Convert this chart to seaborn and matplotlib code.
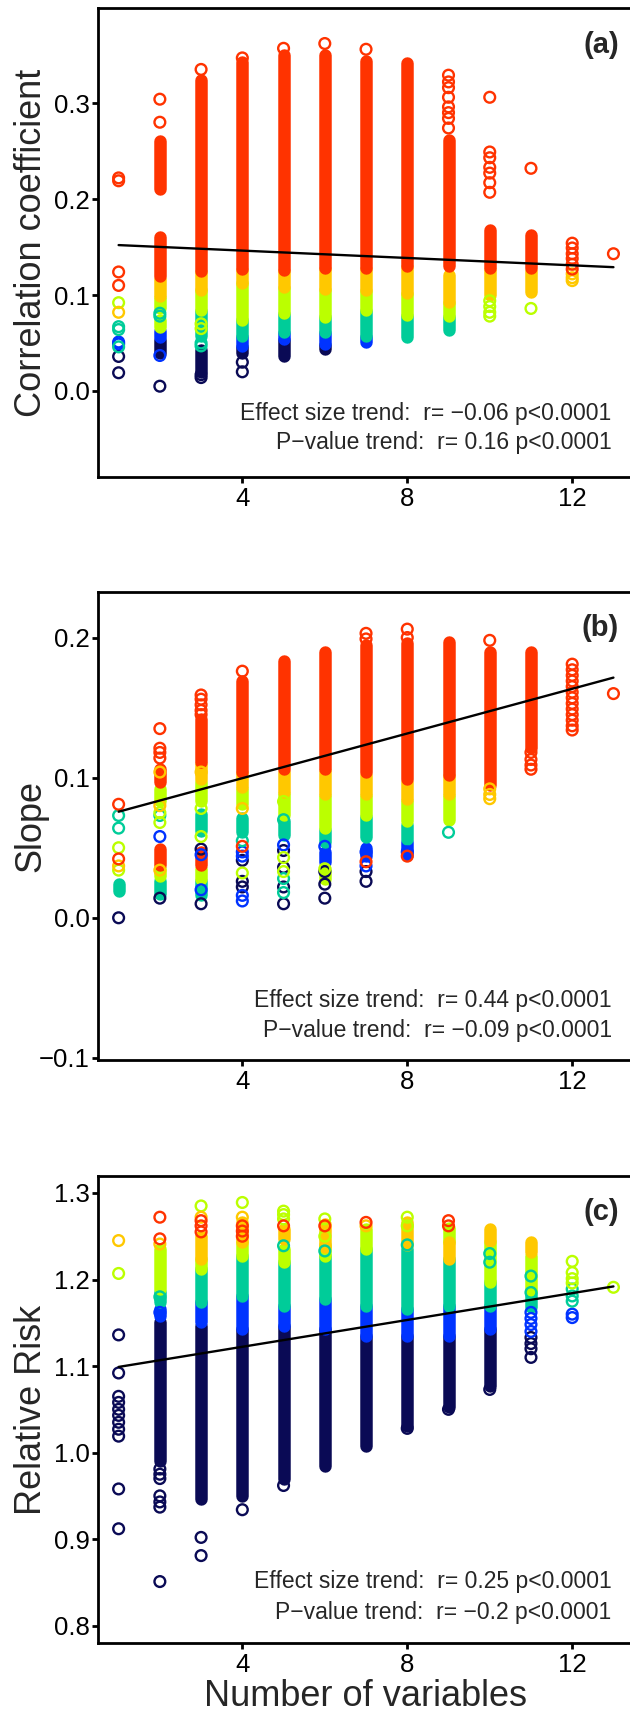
import numpy as np
import pandas as pd
import matplotlib
matplotlib.use("Agg")
import matplotlib.pyplot as plt
from matplotlib.ticker import FuncFormatter
import seaborn as sns

# ---------------- data ----------------
# p-value classes (colour index): 0 navy, 1 blue, 2 teal, 3 lime, 4 orange, 5 red
CLASS_COLORS = ["#0a0a55", "#0033ff", "#00cc99", "#bbff00", "#ffc800", "#ff3300"]

TREND_X = [1, 13]
A_TREND = [0.152, 0.129]
B_TREND = [0.0757, 0.1714]
C_TREND = [1.099, 1.192]

# dense runs of overlapping points: (n_variables, lowest value, highest value, class)
A_BANDS = [
    (2, 0.210, 0.260, 5), (2, 0.120, 0.160, 5), (2, 0.099, 0.117, 4), (2, 0.086, 0.097, 3),
    (2, 0.067, 0.074, 3), (2, 0.056, 0.063, 1), (2, 0.040, 0.053, 0),
    (3, 0.125, 0.324, 5), (3, 0.105, 0.124, 4), (3, 0.084, 0.105, 3), (3, 0.057, 0.083, 2),
    (3, 0.020, 0.043, 0),
    (4, 0.127, 0.343, 5), (4, 0.113, 0.126, 4), (4, 0.074, 0.112, 3), (4, 0.057, 0.074, 2),
    (4, 0.047, 0.056, 1), (4, 0.040, 0.046, 0),
    (5, 0.126, 0.350, 5), (5, 0.108, 0.125, 4), (5, 0.081, 0.107, 3), (5, 0.061, 0.080, 2),
    (5, 0.054, 0.060, 1), (5, 0.036, 0.053, 0),
    (6, 0.128, 0.350, 5), (6, 0.106, 0.127, 4), (6, 0.077, 0.105, 3), (6, 0.061, 0.077, 2),
    (6, 0.049, 0.060, 1), (6, 0.044, 0.048, 0),
    (7, 0.128, 0.344, 5), (7, 0.105, 0.127, 4), (7, 0.084, 0.104, 3), (7, 0.057, 0.083, 2),
    (7, 0.051, 0.056, 1),
    (8, 0.130, 0.342, 5), (8, 0.102, 0.129, 4), (8, 0.079, 0.101, 3), (8, 0.056, 0.078, 2),
    (9, 0.130, 0.261, 5), (9, 0.093, 0.121, 4), (9, 0.078, 0.092, 3), (9, 0.064, 0.077, 2),
    (10, 0.128, 0.168, 5), (10, 0.100, 0.126, 4),
    (11, 0.128, 0.162, 5), (11, 0.103, 0.125, 4),
]
# individual points: (n_variables, value, class)
A_POINTS = [
    (1, 0.222, 5), (1, 0.219, 5), (1, 0.124, 5), (1, 0.110, 5), (1, 0.092, 3), (1, 0.082, 4),
    (1, 0.067, 2), (1, 0.064, 2), (1, 0.051, 1), (1, 0.049, 1), (1, 0.046, 2), (1, 0.036, 0),
    (1, 0.019, 0),
    (2, 0.304, 5), (2, 0.280, 5), (2, 0.081, 2), (2, 0.078, 2), (2, 0.037, 1), (2, 0.005, 0),
    (3, 0.335, 5), (3, 0.070, 3), (3, 0.065, 3), (3, 0.050, 2), (3, 0.047, 2), (3, 0.017, 0),
    (3, 0.014, 0),
    (4, 0.347, 5), (4, 0.030, 0), (4, 0.020, 0),
    (5, 0.357, 5), (6, 0.362, 5), (7, 0.356, 5),
    (9, 0.329, 5), (9, 0.322, 5), (9, 0.316, 5), (9, 0.306, 5), (9, 0.296, 5), (9, 0.290, 5),
    (9, 0.284, 5), (9, 0.274, 5),
    (10, 0.306, 5), (10, 0.249, 5), (10, 0.243, 5), (10, 0.233, 5), (10, 0.227, 5),
    (10, 0.217, 5), (10, 0.207, 5), (10, 0.094, 3), (10, 0.088, 3), (10, 0.082, 3), (10, 0.078, 3),
    (11, 0.232, 5), (11, 0.086, 3),
    (12, 0.154, 5), (12, 0.149, 5), (12, 0.143, 5), (12, 0.138, 5), (12, 0.132, 5),
    (12, 0.127, 5), (12, 0.122, 4), (12, 0.118, 4), (12, 0.115, 4),
    (13, 0.143, 5),
]

B_BANDS = [
    (1, 0.019, 0.024, 2),
    (2, 0.097, 0.106, 5), (2, 0.083, 0.092, 3), (2, 0.038, 0.049, 5), (2, 0.030, 0.035, 3),
    (2, 0.017, 0.026, 2),
    (3, 0.111, 0.142, 5), (3, 0.099, 0.110, 4), (3, 0.083, 0.097, 3), (3, 0.062, 0.074, 2),
    (3, 0.038, 0.047, 5), (3, 0.028, 0.035, 3), (3, 0.016, 0.026, 2),
    (4, 0.104, 0.169, 5), (4, 0.093, 0.103, 4), (4, 0.081, 0.092, 3), (4, 0.061, 0.071, 2),
    (5, 0.106, 0.183, 5), (5, 0.090, 0.104, 4), (5, 0.073, 0.088, 3), (5, 0.059, 0.069, 2),
    (6, 0.106, 0.190, 5), (6, 0.088, 0.105, 4), (6, 0.064, 0.087, 3), (6, 0.054, 0.063, 2),
    (6, 0.040, 0.047, 1), (6, 0.028, 0.035, 3),
    (7, 0.104, 0.195, 5), (7, 0.088, 0.102, 4), (7, 0.073, 0.087, 3), (7, 0.058, 0.072, 2),
    (7, 0.044, 0.050, 1),
    (8, 0.099, 0.196, 5), (8, 0.085, 0.097, 4), (8, 0.069, 0.083, 3), (8, 0.056, 0.066, 2),
    (8, 0.045, 0.054, 1),
    (9, 0.102, 0.197, 5), (9, 0.088, 0.101, 4), (9, 0.070, 0.087, 3),
    (10, 0.095, 0.190, 5),
    (11, 0.121, 0.190, 5),
]
B_POINTS = [
    (1, 0.081, 5), (1, 0.073, 2), (1, 0.064, 2), (1, 0.050, 3), (1, 0.042, 5), (1, 0.037, 4),
    (1, 0.034, 3), (1, 0.000, 0),
    (2, 0.135, 5), (2, 0.121, 5), (2, 0.118, 5), (2, 0.114, 5), (2, 0.104, 4), (2, 0.080, 4),
    (2, 0.075, 3), (2, 0.073, 2), (2, 0.068, 3), (2, 0.058, 1), (2, 0.034, 4), (2, 0.014, 0),
    (3, 0.159, 5), (3, 0.156, 5), (3, 0.152, 5), (3, 0.148, 5), (3, 0.145, 5), (3, 0.104, 4),
    (3, 0.078, 3), (3, 0.058, 3), (3, 0.049, 0), (3, 0.045, 1), (3, 0.020, 1), (3, 0.010, 0),
    (4, 0.176, 5), (4, 0.078, 4), (4, 0.055, 2), (4, 0.051, 5), (4, 0.047, 1), (4, 0.044, 1),
    (4, 0.041, 0), (4, 0.032, 3), (4, 0.026, 0), (4, 0.022, 0), (4, 0.016, 1), (4, 0.012, 1),
    (5, 0.083, 3), (5, 0.070, 2), (5, 0.052, 1), (5, 0.048, 0), (5, 0.043, 3), (5, 0.036, 0),
    (5, 0.033, 3), (5, 0.028, 2), (5, 0.022, 0), (5, 0.018, 2), (5, 0.010, 0),
    (6, 0.051, 1), (6, 0.035, 3), (6, 0.033, 0), (6, 0.024, 0), (6, 0.014, 0),
    (7, 0.203, 5), (7, 0.199, 5), (7, 0.047, 1), (7, 0.040, 5), (7, 0.037, 1), (7, 0.033, 0),
    (7, 0.026, 0),
    (8, 0.206, 5), (8, 0.200, 5), (8, 0.047, 1), (8, 0.044, 5),
    (9, 0.061, 2),
    (10, 0.198, 5), (10, 0.092, 4), (10, 0.088, 4), (10, 0.085, 4),
    (11, 0.118, 5), (11, 0.113, 5), (11, 0.109, 5), (11, 0.106, 5),
    (12, 0.181, 5), (12, 0.177, 5), (12, 0.173, 5), (12, 0.169, 5), (12, 0.165, 5),
    (12, 0.161, 5), (12, 0.157, 5), (12, 0.153, 5), (12, 0.149, 5), (12, 0.145, 5),
    (12, 0.141, 5), (12, 0.137, 5), (12, 0.134, 5),
    (13, 0.160, 5),
]

C_BANDS = [
    (2, 1.189, 1.235, 3), (2, 1.174, 1.185, 2), (2, 1.158, 1.166, 1), (2, 0.990, 1.151, 0),
    (3, 1.224, 1.250, 4), (3, 1.212, 1.224, 3), (3, 1.174, 1.212, 2), (3, 1.151, 1.174, 1),
    (3, 0.946, 1.146, 0),
    (4, 1.243, 1.266, 4), (4, 1.227, 1.243, 3), (4, 1.181, 1.227, 2), (4, 1.143, 1.181, 1),
    (4, 0.950, 1.143, 0),
    (5, 1.247, 1.258, 4), (5, 1.220, 1.235, 3), (5, 1.169, 1.220, 2), (5, 1.146, 1.169, 1),
    (5, 0.970, 1.146, 0),
    (6, 1.238, 1.264, 4), (6, 1.227, 1.240, 3), (6, 1.177, 1.227, 2), (6, 1.143, 1.177, 1),
    (6, 0.985, 1.143, 0),
    (7, 1.235, 1.258, 3), (7, 1.169, 1.235, 2), (7, 1.135, 1.169, 1), (7, 1.008, 1.135, 0),
    (8, 1.240, 1.266, 4), (8, 1.166, 1.235, 2), (8, 1.135, 1.166, 1), (8, 1.031, 1.135, 0),
    (9, 1.243, 1.260, 3), (9, 1.224, 1.243, 4), (9, 1.169, 1.224, 2), (9, 1.135, 1.169, 1),
    (9, 1.053, 1.135, 0),
    (10, 1.245, 1.258, 4), (10, 1.197, 1.243, 3), (10, 1.169, 1.197, 2), (10, 1.143, 1.169, 1),
    (10, 1.077, 1.143, 0),
    (11, 1.232, 1.243, 4), (11, 1.188, 1.227, 3), (11, 1.168, 1.185, 2),
]
C_POINTS = [
    (1, 1.245, 4), (1, 1.207, 3), (1, 1.136, 0), (1, 1.092, 0), (1, 1.065, 0), (1, 1.058, 0),
    (1, 1.050, 0), (1, 1.043, 0), (1, 1.035, 0), (1, 1.027, 0), (1, 1.019, 0), (1, 0.958, 0),
    (1, 0.912, 0),
    (2, 1.272, 5), (2, 1.247, 5), (2, 1.241, 4), (2, 1.180, 2), (2, 1.162, 1), (2, 0.981, 0),
    (2, 0.975, 0), (2, 0.970, 0), (2, 0.950, 0), (2, 0.943, 0), (2, 0.937, 0), (2, 0.851, 0),
    (3, 1.285, 3), (3, 1.272, 4), (3, 1.268, 5), (3, 1.262, 5), (3, 1.255, 5), (3, 0.902, 0),
    (3, 0.881, 0),
    (4, 1.289, 3), (4, 1.272, 4), (4, 1.262, 5), (4, 1.256, 5), (4, 1.250, 5), (4, 0.934, 0),
    (5, 1.279, 3), (5, 1.275, 3), (5, 1.270, 3), (5, 1.262, 5), (5, 1.239, 2), (5, 0.962, 0),
    (6, 1.270, 3), (6, 1.262, 5), (6, 1.250, 3), (6, 1.233, 2),
    (7, 1.266, 5), (7, 1.262, 4),
    (8, 1.272, 3), (8, 1.262, 3), (8, 1.240, 2), (8, 1.028, 0),
    (9, 1.268, 5), (9, 1.262, 5), (9, 1.050, 0),
    (10, 1.230, 2), (10, 1.220, 2), (10, 1.073, 0),
    (11, 1.204, 2), (11, 1.185, 2), (11, 1.162, 1), (11, 1.155, 1), (11, 1.148, 1),
    (11, 1.140, 1), (11, 1.133, 0), (11, 1.126, 0), (11, 1.120, 0), (11, 1.110, 0),
    (12, 1.221, 3), (12, 1.208, 3), (12, 1.201, 3), (12, 1.196, 3), (12, 1.189, 2),
    (12, 1.181, 2), (12, 1.175, 2), (12, 1.160, 1), (12, 1.156, 1),
    (13, 1.191, 3),
]

PANEL_LABELS = ["(a)", "(b)", "(c)"]
Y_LABELS = ["Correlation coefficient", "Slope", "Relative Risk"]
Y_TICKS = [[0.0, 0.1, 0.2, 0.3], [-0.1, 0.0, 0.1, 0.2], [0.8, 0.9, 1.0, 1.1, 1.2, 1.3]]
Y_LIMS = [(-0.0896, 0.399), (-0.1015, 0.2325), (0.780, 1.3196)]
X_TICKS = [4, 8, 12]
X_LABEL = "Number of variables"
EFFECT_TEXT = ["Effect size trend:  r= \u22120.06 p<0.0001",
               "Effect size trend:  r= 0.44 p<0.0001",
               "Effect size trend:  r= 0.25 p<0.0001"]
PVAL_TEXT = ["P\u2212value trend:  r= 0.16 p<0.0001",
             "P\u2212value trend:  r= \u22120.09 p<0.0001",
             "P\u2212value trend:  r= \u22120.2 p<0.0001"]

# ---------------- style ----------------
sns.set_style("ticks")
plt.rcParams["font.family"] = ["Liberation Sans", "DejaVu Sans"]
plt.rcParams["axes.unicode_minus"] = True

W, H = 630, 1722
fig = plt.figure(figsize=(W / 100, H / 100), dpi=100)

# axes boxes in pixels (left, top, right, bottom)
boxes = [(98, 8, 632, 477), (98, 592, 632, 1060), (98, 1176, 632, 1643)]
text_y = [(0.136, 0.0725), (0.128, 0.064), (0.131, 0.066)]
label_y = [0.921, 0.923, 0.923]

BAND_LW = 9.0      # points, ~12 px wide column of overlapping circles
MARK_S = 60
MARK_LW = 1.7

panels = [(A_BANDS, A_POINTS, A_TREND), (B_BANDS, B_POINTS, B_TREND), (C_BANDS, C_POINTS, C_TREND)]


def minus_fmt(v, pos):
    s = f"{v:.1f}"
    if s == "-0.0":
        s = "0.0"
    return s.replace("-", "\u2212")


for i, (bands, points, trend) in enumerate(panels):
    l, t, r, b = boxes[i]
    ax = fig.add_axes([l / W, 1 - b / H, (r - l) / W, (b - t) / H])

    # dense runs drawn as continuous columns of overlapping markers
    bdf = pd.DataFrame(bands, columns=["x", "lo", "hi", "cls"])
    bdf["band"] = np.arange(len(bdf))
    long = pd.concat([
        bdf[["x", "lo", "cls", "band"]].rename(columns={"lo": "y"}),
        bdf[["x", "hi", "cls", "band"]].rename(columns={"hi": "y"}),
    ]).sort_values(["band", "y"])
    for c in range(6):
        sub = long[long["cls"] == c]
        if len(sub) == 0:
            continue
        sns.lineplot(data=sub, x="x", y="y", units="band", estimator=None, sort=False,
                     color=CLASS_COLORS[c], lw=BAND_LW, solid_capstyle="round",
                     ax=ax, legend=False)

    # individual open circles
    pdf = pd.DataFrame(points, columns=["x", "y", "cls"])
    for c in range(6):
        sub = pdf[pdf["cls"] == c]
        if len(sub) == 0:
            continue
        sns.scatterplot(data=sub, x="x", y="y", marker="o", s=MARK_S,
                        facecolors="none", edgecolor=CLASS_COLORS[c],
                        linewidth=MARK_LW, ax=ax, legend=False, zorder=3)

    # trend line
    sns.lineplot(x=TREND_X, y=trend, color="black", lw=1.7, ax=ax, zorder=4)

    ax.set_xlim(0.5, 13.45)
    ax.set_ylim(*Y_LIMS[i])
    ax.set_xticks(X_TICKS)
    ax.set_yticks(Y_TICKS[i])
    ax.yaxis.set_major_formatter(FuncFormatter(minus_fmt))
    ax.tick_params(axis="both", direction="out", length=4, width=2, labelsize=18.5,
                   color="black", labelcolor="black")
    ax.tick_params(axis="y", pad=2)
    ax.tick_params(axis="x", pad=3)
    for side in ["left", "bottom", "top"]:
        ax.spines[side].set_visible(True)
        ax.spines[side].set_linewidth(2)
        ax.spines[side].set_color("black")
    ax.spines["right"].set_visible(False)

    ax.set_ylabel(Y_LABELS[i], fontsize=26)
    ax.yaxis.set_label_coords(-0.092, 0.5)
    if i == 2:
        ax.set_xlabel(X_LABEL, fontsize=26, labelpad=2)
    else:
        ax.set_xlabel("")

    ax.text(0.976, label_y[i], PANEL_LABELS[i], transform=ax.transAxes, ha="right",
            va="center", fontsize=21, fontweight="bold")
    ax.text(0.962, text_y[i][0], EFFECT_TEXT[i], transform=ax.transAxes, ha="right",
            va="center", fontsize=16.5)
    ax.text(0.962, text_y[i][1], PVAL_TEXT[i], transform=ax.transAxes, ha="right",
            va="center", fontsize=16.5)

fig.savefig("out.png", dpi=100, facecolor="white")
